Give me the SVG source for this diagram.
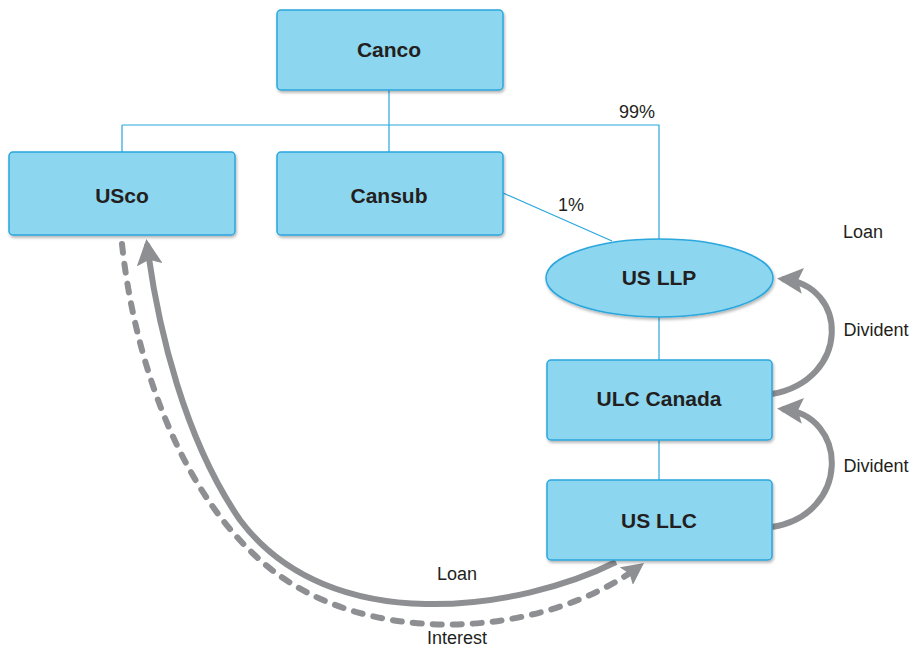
<svg xmlns="http://www.w3.org/2000/svg" width="912" height="650" viewBox="0 0 912 650">
<defs>
<style>
.node{fill:#8dd6f0;stroke:#2aa7dd;stroke-width:1.5;filter:url(#sh)}
.nl{font-family:"Liberation Sans",Arial,sans-serif;font-weight:bold;font-size:21px;fill:#231f20;text-anchor:middle}
.lb{font-family:"Liberation Sans",Arial,sans-serif;font-size:18px;fill:#231f20;text-anchor:middle}
.ln{fill:none;stroke:#2aa7dd;stroke-width:1.2}
.arr{fill:none;stroke:#8e8f92;stroke-width:6}
.dash{fill:none;stroke:#8e8f92;stroke-width:6;stroke-linecap:round;stroke-dasharray:9 11}
</style>
<filter id="sh" x="-10%" y="-10%" width="120%" height="130%">
<feDropShadow dx="1" dy="2" stdDeviation="1.5" flood-color="#000" flood-opacity="0.3"/>
</filter>
<marker id="ah" markerUnits="userSpaceOnUse" markerWidth="26" markerHeight="26" viewBox="0 0 26 26" refX="21" refY="13" orient="auto">
<path d="M0,0 L26,13 L0,26 L5,13 z" fill="#8e8f92"/>
</marker>
<marker id="ah2" markerUnits="userSpaceOnUse" markerWidth="22" markerHeight="22" viewBox="0 0 22 22" refX="17" refY="11" orient="auto">
<path d="M0,0 L22,11 L0,22 L4,11 z" fill="#8e8f92"/>
</marker>
</defs>
<rect width="912" height="650" fill="#fff"/>
<g id="connectors">
<path class="ln" d="M389,90 V125 M122,125 H659 V239 M122,125 V152 M389,125 V152 M503,193 L612,241 M659,317 V360 M659,440 V480"/>
<path class="arr" d="M772,394 C850,380 850,285 782,279" marker-end="url(#ah)"/>
<path class="arr" d="M772,527 C850,515 850,415 782,409" marker-end="url(#ah)"/>
<path class="arr" d="M616,562 C520,610 330,640 240,520 C185,440 158,330 147,244" marker-end="url(#ah)"/>
<path class="dash" d="M122,244 C132,340 170,480 260,560 C360,650 540,640 640,566" marker-end="url(#ah2)"/>
</g>
<g id="Canco"><rect class="node" x="277" y="10" width="226" height="80" rx="4"/><text class="nl" x="389" y="57">Canco</text></g>
<g id="USco"><rect class="node" x="9" y="152" width="226" height="83" rx="4"/><text class="nl" x="122" y="203">USco</text></g>
<g id="Cansub"><rect class="node" x="277" y="152" width="226" height="83" rx="4"/><text class="nl" x="389" y="203">Cansub</text></g>
<g id="USLLP"><ellipse class="node" cx="659.5" cy="278" rx="113.5" ry="39"/><text class="nl" x="659" y="285">US LLP</text></g>
<g id="ULCCanada"><rect class="node" x="547" y="360" width="225" height="80" rx="4"/><text class="nl" x="659" y="406">ULC Canada</text></g>
<g id="USLLC"><rect class="node" x="547" y="480" width="225" height="80" rx="4"/><text class="nl" x="659" y="528">US LLC</text></g>
<g id="labels">
<text class="lb" x="637" y="118">99%</text>
<text class="lb" x="571" y="211">1%</text>
<text class="lb" x="863" y="238">Loan</text>
<text class="lb" x="876" y="336">Divident</text>
<text class="lb" x="876" y="472">Divident</text>
<text class="lb" x="457" y="580">Loan</text>
<text class="lb" x="457" y="644">Interest</text>
</g>
</svg>
